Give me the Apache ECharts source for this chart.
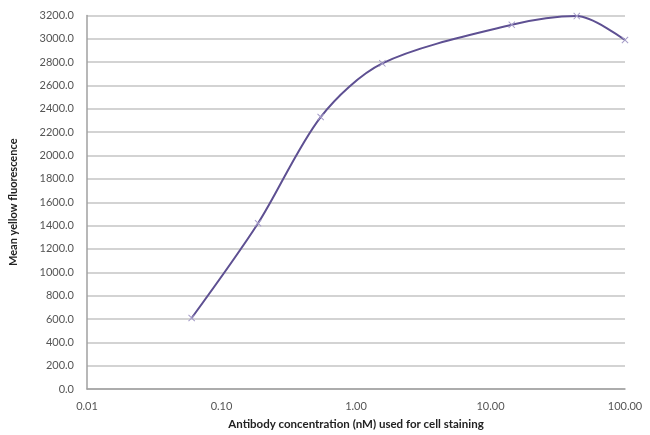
<!DOCTYPE html>
<html>
<head>
<meta charset="utf-8">
<script src="https://cdn.jsdelivr.net/npm/echarts@6/dist/echarts.min.js"></script>
<style>html,body{margin:0;padding:0;background:#fff}#c{width:650px;height:435px}</style>
</head>
<body>
<div id="c"></div>
<script>
var concentrations = [0.060, 0.187, 0.546, 1.57, 14.4, 43.8, 100];
var fluorescence = [608, 1420, 2330, 2790, 3120, 3195, 2990];
var yTicks = { min: 0, max: 3200, interval: 200 };
var xRange = { min: 0.01, max: 100 };
var xTitle = 'Antibody concentration (nM) used for cell staining';
var yTitle = 'Mean yellow fluorescence';

var pts = concentrations.map(function (c, i) { return [c, fluorescence[i]]; });
var chart = echarts.init(document.getElementById('c'));
var fontFam = 'Lato, "Open Sans", sans-serif';
chart.setOption({
  animation: false,
  grid: { left: 86, right: 25, top: 15.5, bottom: 46, containLabel: false },
  xAxis: {
    type: 'log', logBase: 10, min: xRange.min, max: xRange.max,
    name: xTitle, nameLocation: 'middle', nameGap: 29,
    nameTextStyle: { fontFamily: fontFam, fontSize: 11.5, fontWeight: 'bold', color: '#222' },
    axisLine: { lineStyle: { color: '#a0a0a0', width: 1.5 } },
    axisTick: { show: false },
    axisLabel: { color: '#555', fontFamily: fontFam, fontSize: 11, margin: 12,
      formatter: function (v) { return Number(v).toFixed(2); } },
    splitLine: { show: false }, minorTick: { show: false }
  },
  yAxis: {
    type: 'value', min: yTicks.min, max: yTicks.max, interval: yTicks.interval,
    name: yTitle, nameLocation: 'middle', nameGap: 68, nameRotate: 90,
    nameTextStyle: { fontFamily: fontFam, fontSize: 11, fontWeight: 'bold', color: '#222' },
    axisLine: { show: true, lineStyle: { color: '#a0a0a0', width: 1.5 } },
    axisTick: { show: false },
    axisLabel: { color: '#555', fontFamily: fontFam, fontSize: 11, margin: 13,
      formatter: function (v) { return Number(v).toFixed(1); } },
    splitLine: { lineStyle: { color: '#c4c4c4', width: 1.5 } }
  },
  series: [{
    type: 'line', data: pts, smooth: 0.3,
    lineStyle: { color: '#5e5092', width: 2 },
    symbol: 'path://M0,1L1,0L5,4L9,0L10,1L6,5L10,9L9,10L5,6L1,10L0,9L4,5Z',
    symbolSize: 7,
    itemStyle: { color: '#a59cc8' },
    z: 3
  }]
});
</script>
</body>
</html>
